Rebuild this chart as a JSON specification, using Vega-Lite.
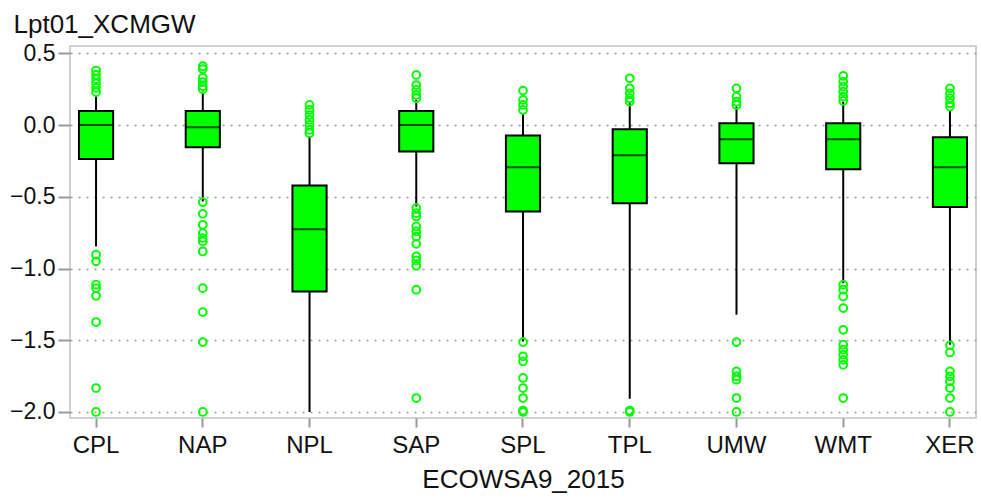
{
  "$schema": "https://vega.github.io/schema/vega-lite/v6.json",
  "width": 906,
  "height": 372,
  "autosize": "none",
  "padding": {"left": 70, "top": 46, "right": 5, "bottom": 80},
  "background": "white",
  "config": {
    "font": "Liberation Sans",
    "view": {"stroke": "#d0d0d0", "strokeWidth": 2},
    "axis": {"labelFont": "Liberation Sans", "titleFont": "Liberation Sans", "labelColor": "#111", "titleColor": "#111", "titleFontWeight": "normal", "domain": false, "tickColor": "#999", "tickWidth": 2}
  },
  "datasets": {
    "boxes": [
      {"cat": "CPL", "lo": -0.846, "q1": -0.236, "med": 0.0, "q3": 0.098, "hi": 0.21},
      {"cat": "NAP", "lo": -0.533, "q1": -0.155, "med": -0.015, "q3": 0.098, "hi": 0.233},
      {"cat": "NPL", "lo": -2.0, "q1": -1.16, "med": -0.726, "q3": -0.422, "hi": -0.08},
      {"cat": "SAP", "lo": -0.568, "q1": -0.185, "med": 0.0, "q3": 0.098, "hi": 0.175},
      {"cat": "SPL", "lo": -1.508, "q1": -0.603, "med": -0.294, "q3": -0.073, "hi": 0.082},
      {"cat": "TPL", "lo": -1.907, "q1": -0.545, "med": -0.21, "q3": -0.029, "hi": 0.152},
      {"cat": "UMW", "lo": -1.322, "q1": -0.266, "med": -0.099, "q3": 0.0125, "hi": 0.129},
      {"cat": "WMT", "lo": -1.102, "q1": -0.308, "med": -0.099, "q3": 0.0125, "hi": 0.163},
      {"cat": "XER", "lo": -1.531, "q1": -0.572, "med": -0.294, "q3": -0.085, "hi": 0.105}
    ],
    "outliers": [
      {"cat": "CPL", "v": 0.38}, {"cat": "CPL", "v": 0.35}, {"cat": "CPL", "v": 0.32}, {"cat": "CPL", "v": 0.29}, {"cat": "CPL", "v": 0.26}, {"cat": "CPL", "v": 0.23},
      {"cat": "CPL", "v": -0.904}, {"cat": "CPL", "v": -0.95}, {"cat": "CPL", "v": -1.113}, {"cat": "CPL", "v": -1.137}, {"cat": "CPL", "v": -1.19}, {"cat": "CPL", "v": -1.373}, {"cat": "CPL", "v": -1.833}, {"cat": "CPL", "v": -2.0},
      {"cat": "NAP", "v": 0.41}, {"cat": "NAP", "v": 0.39}, {"cat": "NAP", "v": 0.33}, {"cat": "NAP", "v": 0.30}, {"cat": "NAP", "v": 0.27}, {"cat": "NAP", "v": 0.25},
      {"cat": "NAP", "v": -0.538}, {"cat": "NAP", "v": -0.619}, {"cat": "NAP", "v": -0.695}, {"cat": "NAP", "v": -0.753}, {"cat": "NAP", "v": -0.788}, {"cat": "NAP", "v": -0.811}, {"cat": "NAP", "v": -0.881}, {"cat": "NAP", "v": -1.137}, {"cat": "NAP", "v": -1.304}, {"cat": "NAP", "v": -1.513}, {"cat": "NAP", "v": -2.0},
      {"cat": "NPL", "v": 0.14}, {"cat": "NPL", "v": 0.105}, {"cat": "NPL", "v": 0.07}, {"cat": "NPL", "v": 0.036}, {"cat": "NPL", "v": 0.001}, {"cat": "NPL", "v": -0.034}, {"cat": "NPL", "v": -0.057},
      {"cat": "SAP", "v": 0.349}, {"cat": "SAP", "v": 0.279}, {"cat": "SAP", "v": 0.245}, {"cat": "SAP", "v": 0.21}, {"cat": "SAP", "v": 0.187},
      {"cat": "SAP", "v": -0.579}, {"cat": "SAP", "v": -0.614}, {"cat": "SAP", "v": -0.637}, {"cat": "SAP", "v": -0.707}, {"cat": "SAP", "v": -0.742}, {"cat": "SAP", "v": -0.777}, {"cat": "SAP", "v": -0.828}, {"cat": "SAP", "v": -0.916}, {"cat": "SAP", "v": -0.944}, {"cat": "SAP", "v": -0.981}, {"cat": "SAP", "v": -1.148}, {"cat": "SAP", "v": -1.903},
      {"cat": "SPL", "v": 0.24}, {"cat": "SPL", "v": 0.175}, {"cat": "SPL", "v": 0.14}, {"cat": "SPL", "v": 0.105},
      {"cat": "SPL", "v": -1.513}, {"cat": "SPL", "v": -1.612}, {"cat": "SPL", "v": -1.647}, {"cat": "SPL", "v": -1.763}, {"cat": "SPL", "v": -1.833}, {"cat": "SPL", "v": -1.903}, {"cat": "SPL", "v": -1.99}, {"cat": "SPL", "v": -2.0},
      {"cat": "TPL", "v": 0.326}, {"cat": "TPL", "v": 0.256}, {"cat": "TPL", "v": 0.221}, {"cat": "TPL", "v": 0.187}, {"cat": "TPL", "v": 0.163},
      {"cat": "TPL", "v": -1.99}, {"cat": "TPL", "v": -2.0},
      {"cat": "UMW", "v": 0.256}, {"cat": "UMW", "v": 0.198}, {"cat": "UMW", "v": 0.163}, {"cat": "UMW", "v": 0.14},
      {"cat": "UMW", "v": -1.513}, {"cat": "UMW", "v": -1.717}, {"cat": "UMW", "v": -1.752}, {"cat": "UMW", "v": -1.775}, {"cat": "UMW", "v": -1.903}, {"cat": "UMW", "v": -2.0},
      {"cat": "WMT", "v": 0.342}, {"cat": "WMT", "v": 0.303}, {"cat": "WMT", "v": 0.268}, {"cat": "WMT", "v": 0.233}, {"cat": "WMT", "v": 0.198}, {"cat": "WMT", "v": 0.168},
      {"cat": "WMT", "v": -1.113}, {"cat": "WMT", "v": -1.148}, {"cat": "WMT", "v": -1.195}, {"cat": "WMT", "v": -1.276}, {"cat": "WMT", "v": -1.427}, {"cat": "WMT", "v": -1.531}, {"cat": "WMT", "v": -1.566}, {"cat": "WMT", "v": -1.601}, {"cat": "WMT", "v": -1.636}, {"cat": "WMT", "v": -1.671}, {"cat": "WMT", "v": -1.903},
      {"cat": "XER", "v": 0.256}, {"cat": "XER", "v": 0.221}, {"cat": "XER", "v": 0.187}, {"cat": "XER", "v": 0.152}, {"cat": "XER", "v": 0.129},
      {"cat": "XER", "v": -1.536}, {"cat": "XER", "v": -1.585}, {"cat": "XER", "v": -1.717}, {"cat": "XER", "v": -1.752}, {"cat": "XER", "v": -1.787}, {"cat": "XER", "v": -1.833}, {"cat": "XER", "v": -1.903}, {"cat": "XER", "v": -2.0}
    ]
  },
  "encoding": {
    "x": {
      "field": "cat", "type": "nominal",
      "scale": {"paddingInner": 0.68, "paddingOuter": 0.084},
      "axis": {"title": "ECOWSA9_2015", "labelAngle": 0, "labelFontSize": 24, "titleFontSize": 26, "tickSize": 9, "labelPadding": 25, "labelBaseline": "alphabetic", "labelOffset": 0, "titleBaseline": "alphabetic", "titleY": 69, "grid": false}
    }
  },
  "layer": [
    {
      "data": {"name": "boxes"},
      "mark": {"type": "rule", "color": "black", "strokeWidth": 2},
      "encoding": {
        "y": {
          "field": "lo", "type": "quantitative",
          "scale": {"domain": [-2.042, 0.551], "nice": false, "zero": false},
          "axis": {"title": "Lpt01_XCMGW", "titleAngle": 0, "titleAlign": "left", "titleBaseline": "alphabetic", "titleX": -57, "titleY": -14, "titleFontSize": 26, "labelFontSize": 23, "values": [-2, -1.5, -1, -0.5, 0, 0.5], "format": ".1f", "tickSize": 12, "labelPadding": 3, "grid": true, "gridColor": "#999", "gridDash": [2, 6], "gridWidth": 1.5}
        },
        "y2": {"field": "hi"}
      }
    },
    {
      "data": {"name": "boxes"},
      "mark": {"type": "bar", "fill": "#00ff00", "stroke": "black", "strokeWidth": 2},
      "encoding": {
        "y": {"field": "q1", "type": "quantitative"},
        "y2": {"field": "q3"}
      }
    },
    {
      "data": {"name": "boxes"},
      "mark": {"type": "tick", "color": "black", "thickness": 2, "size": 34},
      "encoding": {
        "y": {"field": "med", "type": "quantitative"}
      }
    },
    {
      "data": {"name": "outliers"},
      "mark": {"type": "point", "filled": false, "color": "#00ff00", "strokeWidth": 2, "size": 60, "opacity": 1},
      "encoding": {
        "y": {"field": "v", "type": "quantitative"}
      }
    }
  ]
}
